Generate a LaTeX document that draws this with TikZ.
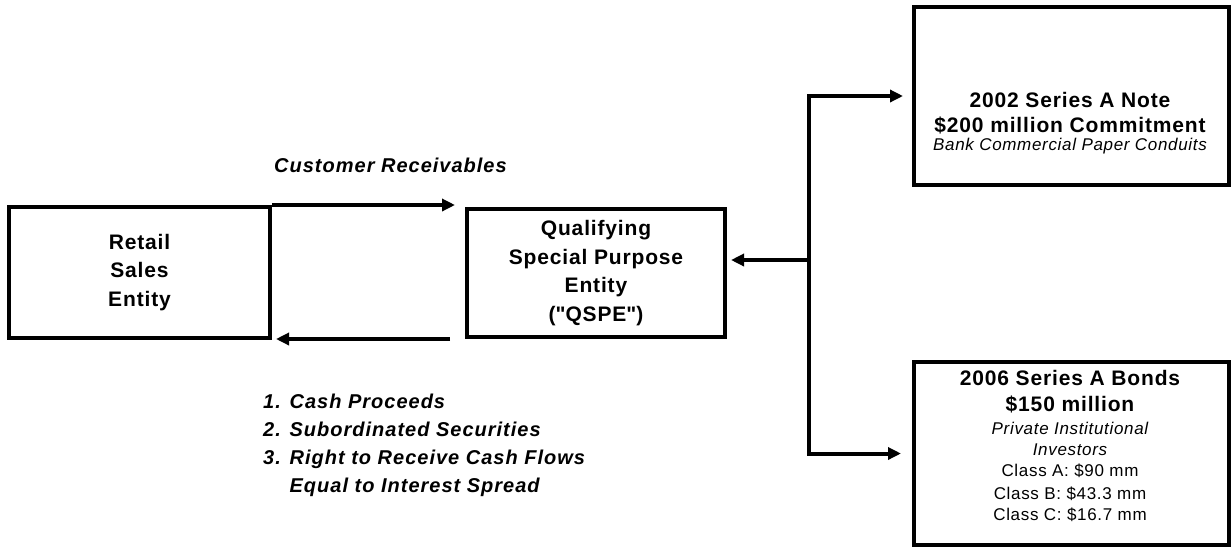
\documentclass[tikz,border=0pt]{standalone}
\usepackage{fontspec}
\setmainfont{Liberation Sans}
\usetikzlibrary{arrows.meta}
\newcommand{\track}[1]{\addfontfeature{LetterSpace=#1}}
\tikzset{
  box/.style={draw, line width=4pt, inner sep=0pt, anchor=north west},
  flow/.style={line width=4pt, -{Triangle[length=13pt,width=12pt]}},
  headtext/.style={font=\fontsize{21}{28.5}\selectfont\bfseries\track{4}, align=center},
  flowtext/.style={font=\fontsize{20}{28}\selectfont\bfseries\itshape\track{5}, align=left, inner sep=0pt},
  titletext/.style={font=\fontsize{21}{22}\selectfont\bfseries\track{4}, inner sep=0pt},
  subtext/.style={font=\fontsize{17}{18}\selectfont\itshape\track{4}, inner sep=0pt},
  plaintext/.style={font=\fontsize{17}{18}\selectfont\track{4}, inner sep=0pt}
}
\begin{document}
\begin{tikzpicture}[x=1pt,y=-1pt]
\useasboundingbox (0,0) rectangle (1231,547);

% entities
\node[box, headtext, minimum width=261pt, minimum height=131pt] (retail) at (7,205)
  {Retail\\Sales\\Entity};
\node[box, headtext, minimum width=258pt, minimum height=128pt] (qspe) at (465,207)
  {Qualifying\\Special Purpose\\Entity\\(\textquotedbl QSPE\textquotedbl)};
\node[box, minimum width=315pt, minimum height=178pt] (note) at (912,5) {};
\node[box, minimum width=315pt, minimum height=183pt] (bonds) at (912,360) {};

% note box text
\node[titletext] (n1) at (1070,100) {2002 Series A Note};
\node[titletext] (n2) at (1070,125) {\$200 million Commitment};
\node[subtext]   (n3) at (1070,146) {Bank Commercial Paper Conduits};

% bonds box text
\node[titletext] (b1) at (1070,378) {2006 Series A Bonds};
\node[titletext] (b2) at (1070,404) {\$150 million};
\node[subtext]   (b3) at (1070,428) {Private Institutional};
\node[subtext]   (b4) at (1070,450) {Investors};
\node[plaintext] (b5) at (1070,471) {Class A: \$90 mm};
\node[plaintext] (b6) at (1070,494) {Class B: \$43.3 mm};
\node[plaintext] (b7) at (1070,515) {Class C: \$16.7 mm};

% flow labels
\node[flowtext, anchor=west] (recv) at (274,165) {Customer Receivables};
\node[flowtext, anchor=west] (back) at (263,445)
  {1. Cash Proceeds\\2. Subordinated Securities\\3. Right to Receive Cash Flows\\\phantom{3. }Equal to Interest Spread};

% flows between retail entity and QSPE
\draw[flow, shorten >=10pt] (retail.north east) -- (retail.north east -| qspe.west);
\draw[flow, shorten <=15pt, shorten >=4pt] (qspe.south west) -- (qspe.south west -| retail.east);

% financing branch
\coordinate (j) at (809,260);
\draw[flow, shorten >=4pt] (j) -- (j -| qspe.east);
\draw[flow, shorten >=9pt] (j) |- (note.west);
\draw[flow, shorten >=11pt] (j) |- (bonds.west);
\end{tikzpicture}
\end{document}
